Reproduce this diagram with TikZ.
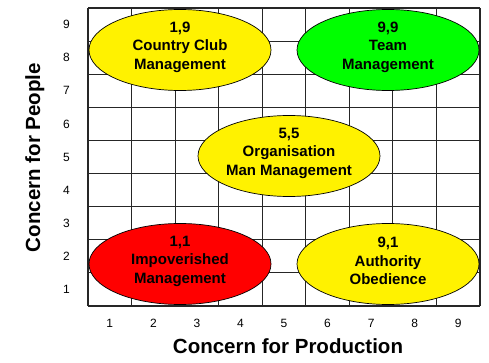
\documentclass[tikz,border=0pt]{standalone}
\usepackage{fontspec}
\setmainfont{Liberation Sans}
\usetikzlibrary{shapes.geometric}

\tikzset{
	gridline/.style={line width=1.2pt, black!85},
	grade/.style={ellipse, draw=black, line width=0.7pt, minimum width=182pt, minimum height=81pt, inner sep=0pt},
	gradetext/.style={align=center, inner sep=0pt, yshift=3pt, font=\fontsize{15}{18.5}\selectfont\bfseries},
	ticklabel/.style={font=\fontsize{12}{14}\selectfont, inner sep=0pt},
	axislabel/.style={font=\fontsize{20.5}{24}\selectfont\bfseries, inner sep=0pt},
}

\begin{document}
\begin{tikzpicture}[x=1pt, y=-1pt]
	\useasboundingbox (0,0) rectangle (489,363);
	% grid 9 x 9
	\foreach \i in {0,...,9} {
		\draw[gridline] ({88+43.556*\i},8) -- ({88+43.556*\i},306);
		\draw[gridline] (88,{8+33.111*\i}) -- (480,{8+33.111*\i});
	}
	% the five styles
	\node[grade, fill=yellow] (club) at (180,50) {};
	\node[grade, fill=green] (team) at (388,50) {};
	\node[grade, fill=yellow] (org) at (289,156) {};
	\node[grade, fill=red] (poor) at (180,264) {};
	\node[grade, fill=yellow] (task) at (388,264) {};
	\node[gradetext] (clubtext) at (club.center) {1,9\\Country Club\\Management};
	\node[gradetext] (teamtext) at (team.center) {9,9\\Team\\Management};
	\node[gradetext] (orgtext) at (org.center) {5,5\\Organisation\\Man Management};
	\node[gradetext] (poortext) at (poor.center) {1,1\\Impoverished\\Management};
	\node[gradetext] (tasktext) at (task.center) {9,1\\Authority\\Obedience};
	% scales
	\foreach \i in {1,...,9} {
		\node[ticklabel] (px\i) at ({88+43.556*(\i-0.5)},323) {\i};
		\node[ticklabel] (py\i) at (66.5,{306-33.111*(\i-0.5)}) {\i};
	}
	\node[axislabel, anchor=base] (xlabel) at (288,353) {Concern for Production};
	\node[axislabel, anchor=base, rotate=90] (ylabel) at (40,157.5) {Concern for People};
\end{tikzpicture}
\end{document}
